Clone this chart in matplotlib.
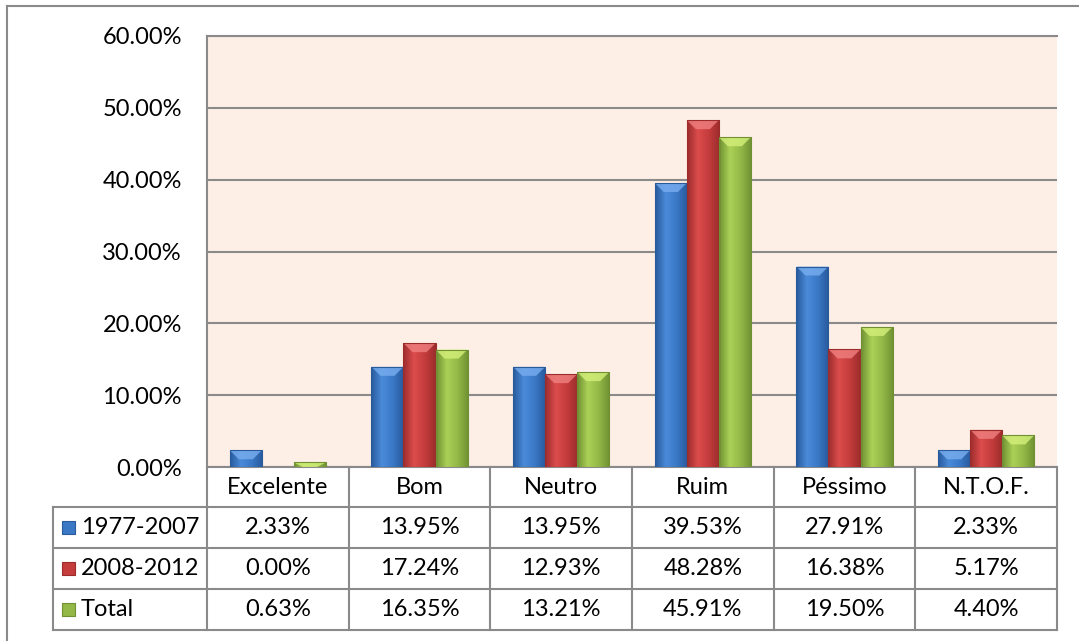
"""Excel-style grouped bars with a data table underneath (avaliação por período)."""
import numpy as np
import matplotlib
matplotlib.use("Agg")
import matplotlib.pyplot as plt
from matplotlib.patches import Polygon, Rectangle
from matplotlib.colors import LinearSegmentedColormap
from matplotlib.transforms import blended_transform_factory

categories = ["Excelente", "Bom", "Neutro", "Ruim", "Péssimo", "N.T.O.F."]
series_names = ["1977-2007", "2008-2012", "Total"]
v_1977_2007 = [2.33, 13.95, 13.95, 39.53, 27.91, 2.33]
v_2008_2012 = [0.00, 17.24, 12.93, 48.28, 16.38, 5.17]
v_total = [0.63, 16.35, 13.21, 45.91, 19.50, 4.40]
yticks = [0, 10, 20, 30, 40, 50, 60]

series = [v_1977_2007, v_2008_2012, v_total]
# (dark edge, light middle, base, bevel highlight)
shades = [("#285a9c", "#4a8bd9", "#3a78c6", "#79aef0"),
          ("#9c2c2c", "#dc4c4c", "#c43c3c", "#f08080"),
          ("#6f9033", "#acd157", "#93b847", "#d4f07a")]

plt.rcParams["font.family"] = ["Lato", "DejaVu Sans"]
FS = 17
GRID = "#8a8a8a"

W, H = 1079, 641
fig = plt.figure(figsize=(W / 100, H / 100), dpi=100)
L, R, T, B = 207, 1057, 36, 467
ax = fig.add_axes([L / W, 1 - B / H, (R - L) / W, (B - T) / H])
ax.set_facecolor("#fdefe5")

# outer chart border (only top/left visible in the crop)
fig.add_artist(plt.Line2D([7 / W, 7 / W], [0, 1 - 6 / H], color=GRID, lw=1.5))
fig.add_artist(plt.Line2D([7 / W, 1], [1 - 6 / H, 1 - 6 / H], color=GRID, lw=1.5))

x = np.arange(len(categories))
bw = 0.226
ax.set_xlim(-0.5, len(categories) - 0.5)
ax.set_ylim(0, 60)
for t in yticks:
    ax.axhline(t, color=GRID, lw=1.5, zorder=1)
for s in ["right", "bottom"]:
    ax.spines[s].set_visible(False)
ax.spines["left"].set_color(GRID)
ax.spines["left"].set_linewidth(1.5)
ax.spines["top"].set_color(GRID)
ax.spines["top"].set_linewidth(1.5)
ax.set_yticks(yticks)
ax.set_yticklabels([f"{t:.2f}%" for t in yticks], fontsize=FS)
ax.tick_params(axis="y", length=0, pad=18)
ax.set_xticks([])

px_y = 60 / (B - T)          # data units per pixel (y)
px_x = 1 / ((R - L) / len(categories))
for i, (vals, (dark, light, base, hi)) in enumerate(zip(series, shades)):
    bars = ax.bar(x + (i - 1) * bw, vals, bw, color=base, zorder=3)
    cmap = LinearSegmentedColormap.from_list("g", [dark, light, base, dark])
    grad = np.linspace(0, 1, 64).reshape(1, -1)
    for b in bars:
        h = b.get_height()
        if h <= 0:
            continue
        x0, w = b.get_x(), b.get_width()
        im = ax.imshow(grad, cmap=cmap, aspect="auto", extent=[x0, x0 + w, 0, h],
                       zorder=3, interpolation="bicubic")
        im.set_clip_path(b)
        bev = min(9 * px_y, h)
        inset = min(9 * px_x, w / 2)
        ax.add_patch(Polygon([[x0, h], [x0 + w, h], [x0 + w - inset, h - bev],
                              [x0 + inset, h - bev]], closed=True,
                             color=hi, alpha=0.8, lw=0, zorder=4))
        ax.add_patch(Rectangle((x0, 0), w, h, fill=False, ec=dark, lw=0.8, zorder=5))

# data table below the axes
tr = blended_transform_factory(ax.transData, ax.transAxes)
row_px = [0, 40, 81, 122, 163]
rows = [r / (B - T) * -1 for r in row_px]
leg_left = -(L - 53) / (R - L)
ta = ax.transAxes
lk = dict(color=GRID, lw=1.5, clip_on=False)
for j, y in enumerate(rows):
    x_start = 0 if j == 0 else leg_left
    ax.plot([x_start, 1], [y, y], transform=ta, **lk)
for k in range(len(categories) + 1):
    ax.plot([k - 0.5, k - 0.5], [rows[0], rows[-1]], transform=tr, **lk)
ax.plot([leg_left, leg_left], [rows[1], rows[-1]], transform=ta, **lk)

for k, c in enumerate(categories):
    ax.text(x[k], (rows[0] + rows[1]) / 2, c, transform=tr, ha="center",
            va="center", fontsize=FS)
for i, (name, vals) in enumerate(zip(series_names, series)):
    yc = (rows[i + 1] + rows[i + 2]) / 2
    for k, v in enumerate(vals):
        ax.text(x[k], yc, f"{v:.2f}%", transform=tr, ha="center", va="center",
                fontsize=FS)
    kx = leg_left + 9 / (R - L)
    ks = 13
    ax.add_patch(Rectangle((kx, yc - ks / 2 / (B - T)), ks / (R - L), ks / (B - T),
                           transform=ta, color=shades[i][2], ec=shades[i][0],
                           lw=0.8, clip_on=False))
    ax.text(kx + 19 / (R - L), yc, name, transform=ta, ha="left", va="center",
            fontsize=FS)

fig.savefig("out.png", dpi=100)
print("saved out.png")
